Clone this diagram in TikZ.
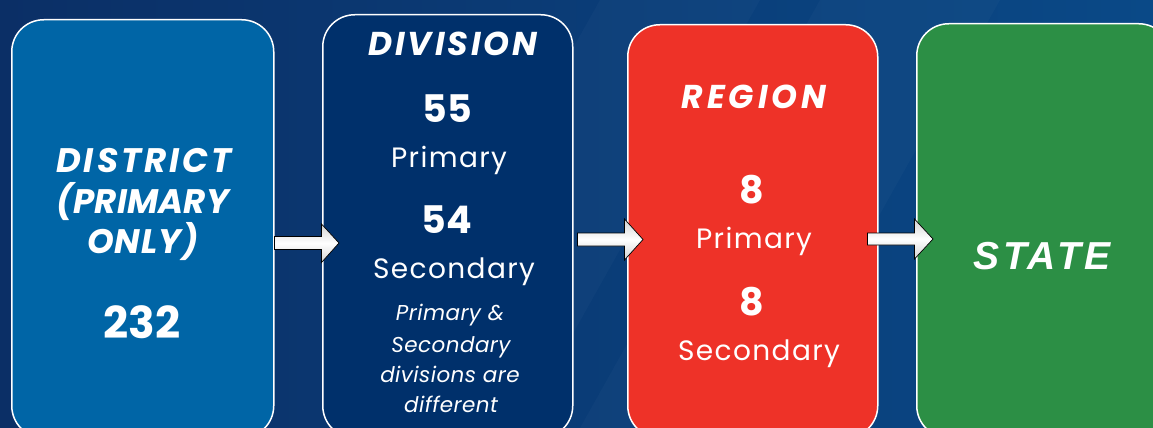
\documentclass[tikz,border=0pt]{standalone}
\usepackage{fontspec}
\setmainfont{Poppins}
\newfontfamily\statefont[LetterSpace=10]{Liberation Sans}
\newfontfamily\headfont{Poppins}
\newfontfamily\labfont[LetterSpace=5]{Poppins}
\newfontfamily\notefont[LetterSpace=2]{Poppins}
\usetikzlibrary{calc}
\definecolor{bgA}{HTML}{0B2F66}
\definecolor{bgB}{HTML}{0A4987}
\definecolor{cDist}{HTML}{0065A6}
\definecolor{cDiv}{HTML}{00306B}
\definecolor{cReg}{HTML}{EE3228}
\definecolor{cState}{HTML}{2C8F45}
\tikzset{
  panel/.style={draw=white, line width=1.5pt, rounded corners=32pt, anchor=north west, inner sep=0pt},
  txt/.style={text=white, anchor=base, inner sep=0pt},
  head/.style={txt, font=\fontsize{33}{33}\selectfont\headfont\bfseries\itshape\addfontfeatures{LetterSpace=#1}},
  head/.default=9,
  dhead/.style={txt, font=\fontsize{34}{34}\selectfont\headfont\bfseries\itshape\addfontfeatures{LetterSpace=#1}},
  num/.style={txt, font=\fontsize{38}{38}\selectfont\bfseries},
  lab/.style={txt, font=\fontsize{28}{28}\selectfont\labfont},
  note/.style={txt, font=\fontsize{21.5}{21.5}\selectfont\notefont\itshape},
  blk/.style={draw=black, line width=0.7pt, top color=gray!35, bottom color=gray!35, middle color=white},
}
\begin{document}
\begin{tikzpicture}[x=1pt,y=-1pt]
\useasboundingbox (0,0) rectangle (1153,428);
\begin{scope}
\clip (0,0) rectangle (1153,428);
\shade[left color=bgA, right color=bgB] (0,0) rectangle (1153,428);
\fill[white, opacity=0.025] (600,0) -- (760,0) -- (520,428) -- (360,428) -- cycle;
\fill[white, opacity=0.025] (820,0) -- (1000,0) -- (760,428) -- (580,428) -- cycle;
% panels
\node[panel, fill=cDist, minimum width=262pt, minimum height=418pt] (b1) at (11,19) {};
\node[panel, fill=cDiv, minimum width=250pt, minimum height=423pt] (b2) at (322,14) {};
\node[panel, fill=cReg, minimum width=250pt, minimum height=413pt] (b3) at (627,24) {};
\node[panel, fill=cState, minimum width=254pt, minimum height=414pt] (b4) at (916,23) {};
% arrows
\coordinate (a1) at (b1.east |- 0,243);
\coordinate (a2) at (b2.east |- 0,239.5);
\coordinate (a3) at (b3.east |- 0,239);
\draw[blk] ($(a1)+(0,-6.5)$) -- ++(47,0) -- ++(0,-12.5) -- ($(b2.west |- a1)+(17,0)$) -- ($(a1)+(47,19.5)$) -- ++(0,-13) -- ($(a1)+(0,6.5)$) -- cycle;
\draw[blk] ($(a2)+(4,-6.5)$) -- ++(47,0) -- ++(0,-14) -- ($(b3.west |- a2)+(16,0)$) -- ($(a2)+(51,20.5)$) -- ++(0,-14) -- ($(a2)+(4,6.5)$) -- cycle;
\draw[blk] ($(a3)+(-11,-6)$) -- ++(47,0) -- ++(0,-14) -- ($(b4.west |- a3)+(17,0)$) -- ($(a3)+(36,20)$) -- ++(0,-14) -- ($(a3)+(-11,6)$) -- cycle;
% district
\node[dhead=9] (t1) at (144,172) {DISTRICT};
\node[dhead=0.5] (t2) at (143,213) {(PRIMARY};
\node[dhead=3] (t3) at (143,253) {ONLY)};
\node[num, font=\fontsize{44}{44}\selectfont\bfseries] (t4) at (142,338) {232};
% division
\node[head=9] (d1) at (453,56) {DIVISION};
\node[num] (d2) at (447,122) {55};
\node[lab] (d3) at (449,167) {Primary};
\node[num] (d4) at (447,233) {54};
\node[lab] (d5) at (454,278) {Secondary};
\node[note] (d6) at (450,320) {Primary \&};
\node[note] (d7) at (451,352) {Secondary};
\node[note] (d8) at (450,382) {divisions are};
\node[note] (d9) at (451,412) {different};
% region
\node[head=12] (r1) at (754,108) {REGION};
\node[num] (r2) at (752,203) {8};
\node[lab] (r3) at (754,248) {Primary};
\node[num] (r4) at (752,315) {8};
\node[lab] (r5) at (759,360) {Secondary};
% state
\node[txt, font=\fontsize{39}{39}\selectfont\statefont\bfseries\itshape] (s1) at (1042,269) {STATE};
\end{scope}
\end{tikzpicture}
\end{document}
